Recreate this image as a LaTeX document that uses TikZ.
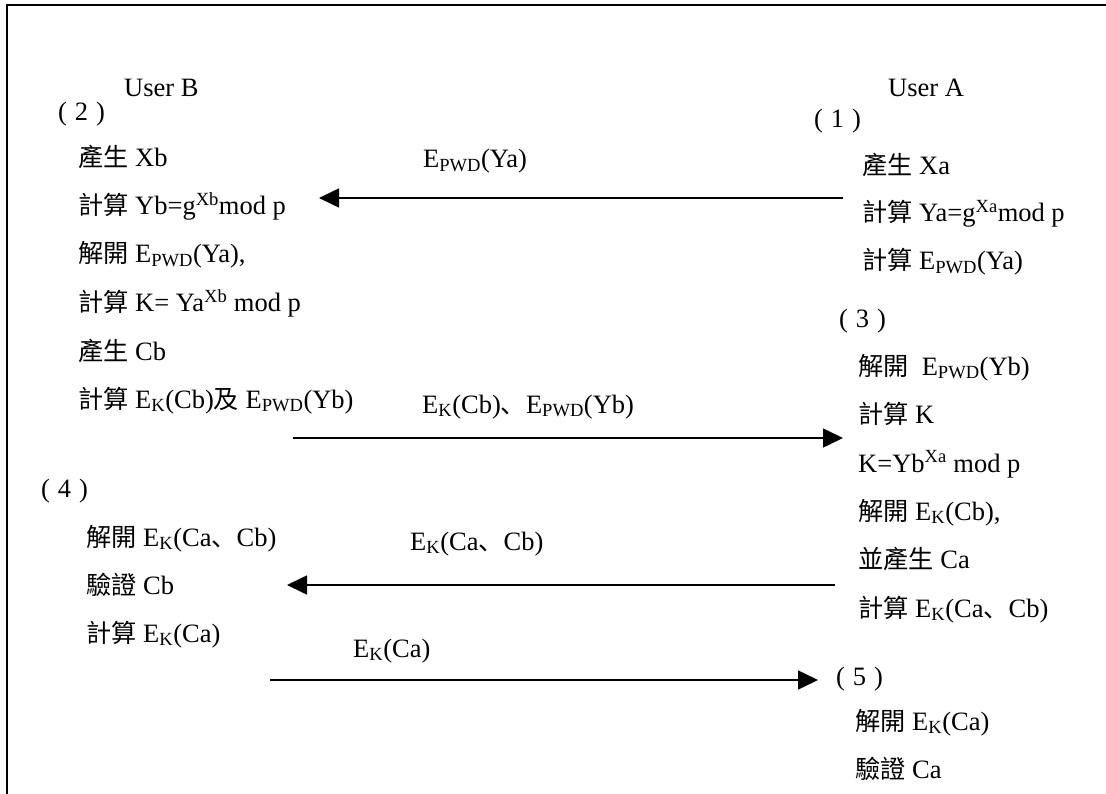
\documentclass[tikz,border=0pt]{standalone}
\usepackage{fontspec}
\setmainfont{Liberation Serif}
\newfontfamily\cjkfont{Noto Sans CJK TC}[Scale=0.95]
\newfontfamily\cjkpunct{Noto Sans CJK SC}[Scale=0.95]
\usetikzlibrary{arrows.meta}
\newcommand{\zh}[1]{{\cjkfont #1}}
\newcommand{\dun}{{\cjkpunct 、}}
\newcommand{\Ek}{E\textsubscript{K}}
\newcommand{\Epwd}{E\textsubscript{PWD}}
\newcommand{\stepno}[1]{(\hspace{0.3em}#1\hspace{0.3em})}
\begin{document}
\begin{tikzpicture}[x=1pt,y=-1pt,
    txt/.style={anchor=base west,inner sep=0pt,font=\fontsize{26.5}{30}\selectfont},
    msg/.style={line width=1.6pt,-{Triangle[length=20pt,width=19pt]}}]
\useasboundingbox (0,0) rectangle (1106,794);
\draw[line width=2pt] (7,794) -- (7,5) -- (1106,5);
% User B
\node[txt] (ub) at (124,97) {User B};
\node[txt] (s2) at (58,121) {\stepno{2}};
\node[txt] (b1) at (78,167) {\zh{產生} Xb};
\node[txt] (b2) at (78,215) {\zh{計算} Yb=g\textsuperscript{Xb}mod p};
\node[txt] (b3) at (78,263) {\zh{解開} \Epwd(Ya),};
\node[txt] (b4) at (78,312) {\zh{計算} K= Ya\textsuperscript{Xb} mod p};
\node[txt] (b5) at (78,360) {\zh{產生} Cb};
\node[txt] (b6) at (78,408) {\zh{計算} \Ek(Cb)\zh{及} \Epwd(Yb)};
\node[txt] (s4) at (41,497) {\stepno{4}};
\node[txt] (b7) at (86,546) {\zh{解開} \Ek(Ca\dun Cb)};
\node[txt] (b8) at (86,594) {\zh{驗證} Cb};
\node[txt] (b9) at (86,642) {\zh{計算} \Ek(Ca)};
% User A
\node[txt] (ua) at (888,97) {User A};
\node[txt] (s1) at (814,128) {\stepno{1}};
\node[txt] (a1) at (862,175) {\zh{產生} Xa};
\node[txt] (a2) at (862,222) {\zh{計算} Ya=g\textsuperscript{Xa}mod p};
\node[txt] (a3) at (862,270) {\zh{計算} \Epwd(Ya)};
\node[txt] (s3) at (839,327) {\stepno{3}};
\node[txt] (a4) at (858,375) {\zh{解開}\ \ \Epwd(Yb)};
\node[txt] (a5) at (858,423) {\zh{計算} K};
\node[txt] (a6) at (858,472) {K=Yb\textsuperscript{Xa} mod p};
\node[txt] (a7) at (858,520) {\zh{解開} \Ek(Cb),};
\node[txt] (a8) at (858,568) {\zh{並產生} Ca};
\node[txt] (a9) at (858,617) {\zh{計算} \Ek(Ca\dun Cb)};
\node[txt] (s5) at (836,685) {\stepno{5}};
\node[txt] (a10) at (855,730) {\zh{解開} \Ek(Ca)};
\node[txt] (a11) at (855,778) {\zh{驗證} Ca};
% messages
\coordinate (m1s) at (843,198); \coordinate (m1e) at (319,198);
\coordinate (m2s) at (293,438); \coordinate (m2e) at (843,438);
\coordinate (m3s) at (835,585); \coordinate (m3e) at (287,585);
\coordinate (m4s) at (270,680); \coordinate (m4e) at (818,680);
\draw[msg] (m1s) -- (m1e);
\draw[msg] (m2s) -- (m2e);
\draw[msg] (m3s) -- (m3e);
\draw[msg] (m4s) -- (m4e);
\node[txt] (l1) at (423,168) {\Epwd(Ya)};
\node[txt] (l2) at (422,413) {\Ek(Cb)\dun\Epwd(Yb)};
\node[txt] (l3) at (410,550) {\Ek(Ca\dun Cb)};
\node[txt] (l4) at (353,657) {\Ek(Ca)};
\end{tikzpicture}
\end{document}
